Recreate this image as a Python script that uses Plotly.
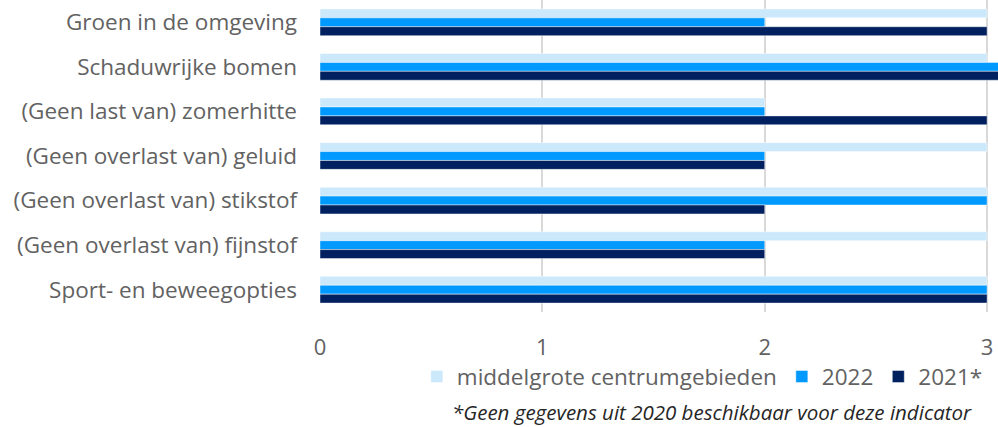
import plotly.graph_objects as go

categories = [
    "Groen in de omgeving",
    "Schaduwrijke bomen",
    "(Geen last van) zomerhitte",
    "(Geen overlast van) geluid",
    "(Geen overlast van) stikstof",
    "(Geen overlast van) fijnstof",
    "Sport- en beweegopties",
]
middelgrote = [3, 3, 2, 3, 3, 3, 3]
v2022 = [2, 4, 2, 2, 3, 2, 3]
v2021 = [3, 4, 3, 2, 2, 2, 3]
tick_vals = [0, 1, 2, 3]

series = [
    ("middelgrote centrumgebieden", middelgrote, "#CCE8FB"),
    ("2022", v2022, "#0099FF"),
    ("2021*", v2021, "#002060"),
]

FONT = "Open Sans"
TXT = "#626262"
fig = go.Figure()
for name, vals, col in series:
    fig.add_trace(go.Bar(
        y=categories, x=vals, name=name, orientation="h",
        marker=dict(color=col, line=dict(color="rgba(255,255,255,0.6)", width=0.75)),
    ))

fig.update_layout(
    width=998, height=427,
    margin=dict(l=320, r=0, t=0, b=115),
    barmode="group", bargap=0.4, bargroupgap=0,
    plot_bgcolor="white", paper_bgcolor="white",
    font=dict(family=FONT, color=TXT),
    xaxis=dict(range=[0, 3.049], tickvals=tick_vals, showgrid=True, gridcolor="#D9D9D9",
               gridwidth=1.5, zeroline=False, tickfont=dict(size=22, color=TXT),
               ticklabelstandoff=20, showline=False),
    yaxis=dict(autorange="reversed", tickfont=dict(size=22.5, color=TXT),
               ticklabelstandoff=22, showgrid=False, showline=False),
    legend=dict(orientation="h", x=0.985, xanchor="right", y=-0.208, yanchor="middle",
                font=dict(size=22.5, color=TXT), itemwidth=30, traceorder="normal"),
    showlegend=True,
)
fig.add_annotation(
    text="<i>*Geen gegevens uit 2020 beschikbaar voor deze indicator</i>",
    xref="paper", yref="paper", x=0.965, xanchor="right", y=-0.32, yanchor="middle",
    showarrow=False, font=dict(size=20.5, color="#262626", family=FONT),
)
fig.write_html("out.html", config={"displayModeBar": False},
               post_script="document.body.style.margin='0';document.body.style.overflow='hidden';")
